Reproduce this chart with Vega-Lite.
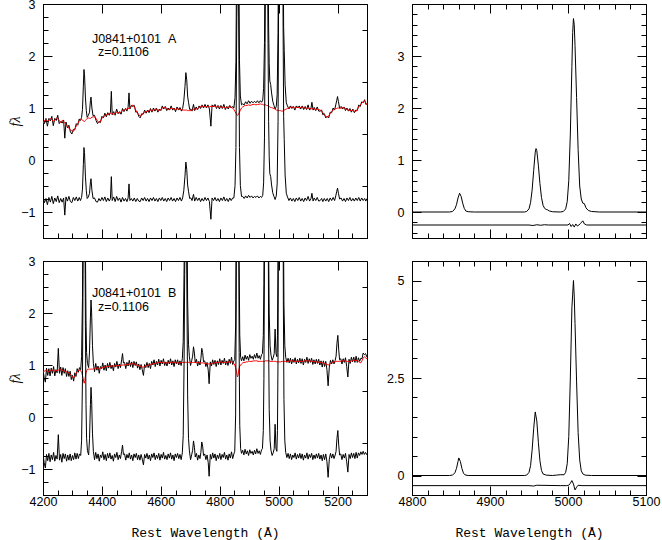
{
"$schema":"https://vega.github.io/schema/vega-lite/v6.json",
"background":"white",
"padding":{"left":8,"right":0,"top":-3,"bottom":0},
"config":{"view":{"stroke":"#000","strokeWidth":1},"axis":{"grid":false,"labelFlush":false,"labelOverlap":false,"domainColor":"#000","tickColor":"#000","labelColor":"#000","titleColor":"#000","labelFont":"Liberation Sans","labelFontSize":12.5,"tickWidth":1,"domainWidth":1}},
"datasets":{
"A":[
{"w":4200,"o":0.75,"m":0.70,"r":-0.71},{"w":4205,"o":0.70,"m":0.76,"r":-0.82},{"w":4210,"o":0.80,"m":0.78,"r":-0.74},{"w":4215,"o":0.65,"m":0.75,"r":-0.86},{"w":4220,"o":0.80,"m":0.76,"r":-0.72},{"w":4225,"o":0.75,"m":0.80,"r":-0.81},{"w":4230,"o":0.84,"m":0.78,"r":-0.70},{"w":4235,"o":0.66,"m":0.74,"r":-0.84},{"w":4240,"o":0.80,"m":0.77,"r":-0.73},{"w":4245,"o":0.76,"m":0.80,"r":-0.80},{"w":4250,"o":0.86,"m":0.79,"r":-0.69},{"w":4255,"o":0.70,"m":0.76,"r":-0.82},{"w":4260,"o":0.74,"m":0.72,"r":-0.74},{"w":4265,"o":0.71,"m":0.76,"r":-0.81},{"w":4270,"o":0.77,"m":0.74,"r":-0.73},{"w":4274,"o":0.42,"m":0.72,"r":-1.06},{"w":4278,"o":0.73,"m":0.68,"r":-0.71},{"w":4283,"o":0.62,"m":0.65,"r":-0.79},{"w":4288,"o":0.67,"m":0.61,"r":-0.70},{"w":4293,"o":0.54,"m":0.58,"r":-0.80},{"w":4298,"o":0.50,"m":0.56,"r":-0.82},{"w":4303,"o":0.59,"m":0.55,"r":-0.72},{"w":4308,"o":0.58,"m":0.60,"r":-0.78},{"w":4313,"o":0.70,"m":0.65,"r":-0.71},{"w":4318,"o":0.67,"m":0.70,"r":-0.79},{"w":4323,"o":0.79,"m":0.75,"r":-0.72},{"w":4327,"o":0.76,"m":0.78,"r":-0.78},{"w":4331,"o":0.82,"m":0.78,"r":-0.72},{"w":4334,"o":0.97,"m":0.77,"r":-0.56},{"w":4337,"o":1.42,"m":0.75,"r":-0.09},{"w":4339,"o":1.74,"m":0.74,"r":0.24},{"w":4341,"o":1.64,"m":0.74,"r":0.14},{"w":4344,"o":1.21,"m":0.76,"r":-0.31},{"w":4347,"o":0.95,"m":0.78,"r":-0.59},{"w":4350,"o":0.82,"m":0.80,"r":-0.74},{"w":4354,"o":0.86,"m":0.81,"r":-0.71},{"w":4358,"o":0.92,"m":0.80,"r":-0.64},{"w":4361,"o":1.14,"m":0.80,"r":-0.42},{"w":4363,"o":1.21,"m":0.81,"r":-0.36},{"w":4366,"o":1.00,"m":0.82,"r":-0.58},{"w":4370,"o":0.85,"m":0.83,"r":-0.74},{"w":4375,"o":0.86,"m":0.83,"r":-0.73},{"w":4380,"o":0.76,"m":0.80,"r":-0.80},{"w":4385,"o":0.70,"m":0.75,"r":-0.81},{"w":4390,"o":0.74,"m":0.72,"r":-0.74},{"w":4395,"o":0.72,"m":0.75,"r":-0.79},{"w":4400,"o":0.84,"m":0.80,"r":-0.72},{"w":4405,"o":0.81,"m":0.83,"r":-0.78},{"w":4410,"o":0.90,"m":0.85,"r":-0.71},{"w":4415,"o":0.83,"m":0.87,"r":-0.80},{"w":4420,"o":0.91,"m":0.88,"r":-0.73},{"w":4425,"o":0.86,"m":0.89,"r":-0.79},{"w":4429,"o":0.92,"m":0.90,"r":-0.74},{"w":4432,"o":1.32,"m":0.90,"r":-0.32},{"w":4435,"o":0.87,"m":0.89,"r":-0.78},{"w":4440,"o":0.93,"m":0.88,"r":-0.71},{"w":4445,"o":0.86,"m":0.90,"r":-0.80},{"w":4450,"o":0.98,"m":0.92,"r":-0.70},{"w":4455,"o":0.89,"m":0.91,"r":-0.78},{"w":4460,"o":0.93,"m":0.90,"r":-0.73},{"w":4465,"o":0.88,"m":0.93,"r":-0.81},{"w":4470,"o":0.99,"m":0.95,"r":-0.72},{"w":4475,"o":0.93,"m":0.96,"r":-0.79},{"w":4480,"o":0.99,"m":0.97,"r":-0.74},{"w":4485,"o":0.94,"m":0.98,"r":-0.80},{"w":4489,"o":1.02,"m":0.99,"r":-0.73},{"w":4492,"o":1.29,"m":0.99,"r":-0.46},{"w":4495,"o":0.98,"m":1.00,"r":-0.78},{"w":4500,"o":1.05,"m":1.03,"r":-0.74},{"w":4505,"o":1.03,"m":1.06,"r":-0.79},{"w":4510,"o":1.05,"m":1.02,"r":-0.73},{"w":4515,"o":0.92,"m":0.96,"r":-0.80},{"w":4520,"o":0.93,"m":0.91,"r":-0.74},{"w":4525,"o":0.84,"m":0.87,"r":-0.79},{"w":4530,"o":0.81,"m":0.85,"r":-0.80},{"w":4535,"o":0.89,"m":0.86,"r":-0.73},{"w":4540,"o":0.88,"m":0.90,"r":-0.78},{"w":4545,"o":0.96,"m":0.92,"r":-0.72},{"w":4550,"o":0.90,"m":0.93,"r":-0.79},{"w":4555,"o":0.96,"m":0.94,"r":-0.74},{"w":4560,"o":0.91,"m":0.95,"r":-0.80},{"w":4565,"o":0.99,"m":0.96,"r":-0.73},{"w":4570,"o":0.92,"m":0.94,"r":-0.78},{"w":4575,"o":1.00,"m":0.96,"r":-0.72},{"w":4580,"o":0.94,"m":0.97,"r":-0.79},{"w":4585,"o":1.00,"m":0.98,"r":-0.74},{"w":4590,"o":0.92,"m":0.96,"r":-0.80},{"w":4595,"o":0.98,"m":0.95,"r":-0.73},{"w":4600,"o":0.95,"m":0.97,"r":-0.78},{"w":4605,"o":1.04,"m":1.00,"r":-0.72},{"w":4610,"o":0.98,"m":1.01,"r":-0.79},{"w":4615,"o":1.03,"m":1.01,"r":-0.74},{"w":4620,"o":0.95,"m":0.99,"r":-0.80},{"w":4625,"o":1.00,"m":0.97,"r":-0.73},{"w":4630,"o":0.96,"m":0.98,"r":-0.78},{"w":4635,"o":1.04,"m":1.00,"r":-0.72},{"w":4640,"o":0.96,"m":0.99,"r":-0.79},{"w":4645,"o":1.00,"m":0.98,"r":-0.74},{"w":4650,"o":0.93,"m":0.97,"r":-0.80},{"w":4655,"o":1.02,"m":0.99,"r":-0.73},{"w":4660,"o":0.96,"m":0.98,"r":-0.78},{"w":4665,"o":1.01,"m":0.97,"r":-0.72},{"w":4670,"o":0.94,"m":0.97,"r":-0.79},{"w":4674,"o":0.99,"m":0.96,"r":-0.73},{"w":4678,"o":1.13,"m":0.96,"r":-0.59},{"w":4682,"o":1.41,"m":0.96,"r":-0.31},{"w":4685,"o":1.68,"m":0.96,"r":-0.04},{"w":4688,"o":1.54,"m":0.96,"r":-0.18},{"w":4691,"o":1.23,"m":0.95,"r":-0.48},{"w":4694,"o":1.11,"m":0.95,"r":-0.60},{"w":4698,"o":0.97,"m":0.95,"r":-0.74},{"w":4702,"o":0.98,"m":0.95,"r":-0.73},{"w":4706,"o":0.94,"m":0.96,"r":-0.78},{"w":4711,"o":1.07,"m":0.97,"r":-0.66},{"w":4715,"o":0.95,"m":0.98,"r":-0.79},{"w":4720,"o":1.02,"m":0.98,"r":-0.72},{"w":4725,"o":0.97,"m":0.99,"r":-0.78},{"w":4730,"o":1.04,"m":1.01,"r":-0.73},{"w":4735,"o":0.99,"m":1.03,"r":-0.80},{"w":4740,"o":1.06,"m":1.04,"r":-0.74},{"w":4745,"o":1.00,"m":1.03,"r":-0.79},{"w":4750,"o":1.07,"m":1.03,"r":-0.72},{"w":4755,"o":1.00,"m":1.02,"r":-0.78},{"w":4760,"o":1.06,"m":1.03,"r":-0.73},{"w":4765,"o":0.98,"m":1.02,"r":-0.80},{"w":4770,"o":0.65,"m":1.03,"r":-1.14},{"w":4774,"o":1.06,"m":1.03,"r":-0.73},{"w":4779,"o":1.02,"m":1.04,"r":-0.78},{"w":4784,"o":1.07,"m":1.03,"r":-0.72},{"w":4789,"o":0.99,"m":1.02,"r":-0.79},{"w":4794,"o":1.05,"m":1.03,"r":-0.74},{"w":4799,"o":0.98,"m":1.02,"r":-0.80},{"w":4804,"o":1.05,"m":1.02,"r":-0.73},{"w":4809,"o":0.99,"m":1.01,"r":-0.78},{"w":4814,"o":1.07,"m":1.02,"r":-0.71},{"w":4819,"o":0.97,"m":1.00,"r":-0.79},{"w":4824,"o":1.03,"m":1.01,"r":-0.74},{"w":4829,"o":0.98,"m":1.02,"r":-0.80},{"w":4834,"o":1.05,"m":1.02,"r":-0.73},{"w":4839,"o":1.00,"m":1.02,"r":-0.78},{"w":4844,"o":1.03,"m":1.00,"r":-0.73},{"w":4848,"o":1.00,"m":0.97,"r":-0.73},{"w":4852,"o":1.20,"m":0.93,"r":-0.49},{"w":4855,"o":1.90,"m":0.90,"r":0.24},{"w":4858,"o":4.37,"m":0.87,"r":2.74},{"w":4861,"o":5.86,"m":0.86,"r":4.24},{"w":4864,"o":4.68,"m":0.88,"r":3.04},{"w":4867,"o":1.92,"m":0.92,"r":0.24},{"w":4870,"o":1.23,"m":0.96,"r":-0.49},{"w":4874,"o":1.06,"m":1.00,"r":-0.70},{"w":4878,"o":1.08,"m":1.02,"r":-0.70},{"w":4883,"o":1.06,"m":1.04,"r":-0.74},{"w":4888,"o":1.12,"m":1.05,"r":-0.69},{"w":4893,"o":1.08,"m":1.05,"r":-0.73},{"w":4898,"o":1.14,"m":1.06,"r":-0.68},{"w":4903,"o":1.09,"m":1.05,"r":-0.72},{"w":4908,"o":1.13,"m":1.06,"r":-0.69},{"w":4913,"o":1.10,"m":1.07,"r":-0.73},{"w":4918,"o":1.13,"m":1.07,"r":-0.70},{"w":4923,"o":1.10,"m":1.06,"r":-0.72},{"w":4928,"o":1.14,"m":1.07,"r":-0.69},{"w":4933,"o":1.10,"m":1.07,"r":-0.73},{"w":4938,"o":1.14,"m":1.08,"r":-0.70},{"w":4942,"o":1.11,"m":1.07,"r":-0.72},{"w":4946,"o":1.15,"m":1.07,"r":-0.68},{"w":4949,"o":1.38,"m":1.06,"r":-0.44},{"w":4952,"o":2.26,"m":1.06,"r":0.44},{"w":4954,"o":4.06,"m":1.06,"r":2.24},{"w":4957,"o":7.26,"m":1.06,"r":5.44},{"w":4959,"o":8.06,"m":1.05,"r":6.24},{"w":4961,"o":7.05,"m":1.05,"r":5.24},{"w":4964,"o":4.04,"m":1.04,"r":2.24},{"w":4966,"o":2.54,"m":1.04,"r":0.74},{"w":4968,"o":1.85,"m":1.03,"r":0.06},{"w":4970,"o":1.52,"m":1.02,"r":-0.26},{"w":4973,"o":1.45,"m":1.01,"r":-0.32},{"w":4976,"o":1.29,"m":1.01,"r":-0.48},{"w":4980,"o":1.13,"m":1.00,"r":-0.63},{"w":4984,"o":1.05,"m":0.99,"r":-0.70},{"w":4988,"o":0.98,"m":0.98,"r":-0.76},{"w":4992,"o":1.03,"m":0.96,"r":-0.69},{"w":4995,"o":1.26,"m":0.96,"r":-0.46},{"w":4998,"o":2.45,"m":0.95,"r":0.74},{"w":5000,"o":4.95,"m":0.95,"r":3.24},{"w":5003,"o":12.95,"m":0.95,"r":11.24},{"w":5006,"o":20.95,"m":0.95,"r":19.24},{"w":5008,"o":21.94,"m":0.94,"r":20.24},{"w":5010,"o":17.94,"m":0.94,"r":16.24},{"w":5013,"o":8.94,"m":0.94,"r":7.24},{"w":5015,"o":4.45,"m":0.95,"r":2.74},{"w":5017,"o":2.55,"m":0.95,"r":0.84},{"w":5019,"o":2.11,"m":0.96,"r":0.39},{"w":5022,"o":1.44,"m":0.97,"r":-0.29},{"w":5026,"o":1.10,"m":0.98,"r":-0.64},{"w":5030,"o":1.04,"m":0.99,"r":-0.71},{"w":5035,"o":0.98,"m":1.00,"r":-0.78},{"w":5040,"o":1.04,"m":1.01,"r":-0.73},{"w":5045,"o":0.99,"m":1.02,"r":-0.79},{"w":5050,"o":1.03,"m":1.01,"r":-0.74},{"w":5055,"o":0.96,"m":1.00,"r":-0.80},{"w":5060,"o":1.04,"m":1.01,"r":-0.73},{"w":5065,"o":1.00,"m":1.02,"r":-0.78},{"w":5070,"o":1.04,"m":1.00,"r":-0.72},{"w":5075,"o":0.98,"m":1.01,"r":-0.79},{"w":5080,"o":1.04,"m":1.02,"r":-0.74},{"w":5085,"o":0.97,"m":1.01,"r":-0.80},{"w":5090,"o":1.03,"m":1.00,"r":-0.73},{"w":5095,"o":0.97,"m":0.99,"r":-0.78},{"w":5100,"o":1.06,"m":1.00,"r":-0.70},{"w":5105,"o":0.96,"m":0.99,"r":-0.79},{"w":5110,"o":1.00,"m":0.98,"r":-0.74},{"w":5113,"o":1.11,"m":0.99,"r":-0.64},{"w":5117,"o":0.96,"m":0.99,"r":-0.79},{"w":5121,"o":1.01,"m":0.98,"r":-0.73},{"w":5126,"o":0.95,"m":0.97,"r":-0.78},{"w":5131,"o":1.02,"m":0.98,"r":-0.72},{"w":5136,"o":0.94,"m":0.97,"r":-0.79},{"w":5141,"o":0.94,"m":0.96,"r":-0.78},{"w":5146,"o":0.96,"m":0.94,"r":-0.74},{"w":5150,"o":0.87,"m":0.91,"r":-0.80},{"w":5155,"o":0.89,"m":0.87,"r":-0.74},{"w":5160,"o":0.81,"m":0.84,"r":-0.79},{"w":5165,"o":0.84,"m":0.82,"r":-0.74},{"w":5170,"o":0.81,"m":0.85,"r":-0.80},{"w":5175,"o":0.92,"m":0.89,"r":-0.73},{"w":5180,"o":0.91,"m":0.93,"r":-0.78},{"w":5185,"o":1.00,"m":0.96,"r":-0.72},{"w":5190,"o":0.96,"m":0.98,"r":-0.78},{"w":5194,"o":1.06,"m":0.99,"r":-0.69},{"w":5197,"o":1.14,"m":0.99,"r":-0.61},{"w":5200,"o":1.22,"m":1.00,"r":-0.54},{"w":5203,"o":1.12,"m":1.00,"r":-0.64},{"w":5207,"o":1.00,"m":0.99,"r":-0.75},{"w":5212,"o":1.03,"m":1.00,"r":-0.73},{"w":5217,"o":0.98,"m":1.01,"r":-0.79},{"w":5222,"o":1.02,"m":1.00,"r":-0.74},{"w":5227,"o":0.95,"m":0.99,"r":-0.80},{"w":5232,"o":1.00,"m":0.97,"r":-0.73},{"w":5237,"o":0.94,"m":0.96,"r":-0.78},{"w":5242,"o":0.99,"m":0.95,"r":-0.72},{"w":5247,"o":0.92,"m":0.95,"r":-0.79},{"w":5252,"o":0.98,"m":0.96,"r":-0.74},{"w":5257,"o":0.91,"m":0.94,"r":-0.79},{"w":5262,"o":0.96,"m":0.93,"r":-0.73},{"w":5267,"o":0.95,"m":0.97,"r":-0.78},{"w":5272,"o":1.06,"m":1.02,"r":-0.72},{"w":5277,"o":1.03,"m":1.06,"r":-0.79},{"w":5282,"o":1.12,"m":1.09,"r":-0.73},{"w":5287,"o":1.10,"m":1.12,"r":-0.78},{"w":5292,"o":1.16,"m":1.14,"r":-0.74},{"w":5296,"o":1.07,"m":1.10,"r":-0.79},{"w":5300,"o":1.08,"m":1.06,"r":-0.74}
],
"B":[
{"w":4200,"o":0.91,"m":0.86,"r":-0.71},{"w":4204,"o":0.76,"m":0.88,"r":-0.88},{"w":4208,"o":0.67,"m":0.89,"r":-0.98},{"w":4212,"o":0.94,"m":0.90,"r":-0.72},{"w":4216,"o":0.80,"m":0.88,"r":-0.84},{"w":4220,"o":0.93,"m":0.87,"r":-0.70},{"w":4224,"o":0.79,"m":0.89,"r":-0.86},{"w":4228,"o":0.94,"m":0.91,"r":-0.73},{"w":4232,"o":0.84,"m":0.90,"r":-0.82},{"w":4236,"o":0.97,"m":0.89,"r":-0.68},{"w":4240,"o":0.79,"m":0.88,"r":-0.85},{"w":4244,"o":0.91,"m":0.89,"r":-0.74},{"w":4248,"o":0.85,"m":0.90,"r":-0.81},{"w":4252,"o":1.32,"m":0.90,"r":-0.34},{"w":4256,"o":0.84,"m":0.91,"r":-0.83},{"w":4260,"o":0.96,"m":0.92,"r":-0.72},{"w":4264,"o":0.80,"m":0.91,"r":-0.87},{"w":4268,"o":0.95,"m":0.89,"r":-0.70},{"w":4272,"o":0.84,"m":0.88,"r":-0.80},{"w":4276,"o":0.93,"m":0.88,"r":-0.71},{"w":4280,"o":0.78,"m":0.87,"r":-0.85},{"w":4284,"o":0.89,"m":0.86,"r":-0.73},{"w":4288,"o":0.78,"m":0.85,"r":-0.83},{"w":4292,"o":0.88,"m":0.83,"r":-0.71},{"w":4296,"o":0.72,"m":0.80,"r":-0.84},{"w":4300,"o":0.80,"m":0.78,"r":-0.74},{"w":4304,"o":0.69,"m":0.75,"r":-0.82},{"w":4308,"o":0.85,"m":0.78,"r":-0.69},{"w":4312,"o":0.78,"m":0.83,"r":-0.81},{"w":4316,"o":0.93,"m":0.87,"r":-0.70},{"w":4320,"o":0.86,"m":0.90,"r":-0.80},{"w":4324,"o":0.95,"m":0.90,"r":-0.71},{"w":4328,"o":0.91,"m":0.89,"r":-0.74},{"w":4331,"o":1.16,"m":0.86,"r":-0.46},{"w":4334,"o":2.30,"m":0.80,"r":0.74},{"w":4336,"o":4.25,"m":0.75,"r":2.74},{"w":4338,"o":6.18,"m":0.68,"r":4.74},{"w":4340,"o":6.65,"m":0.65,"r":5.24},{"w":4342,"o":5.70,"m":0.70,"r":4.24},{"w":4344,"o":3.28,"m":0.78,"r":1.74},{"w":4346,"o":1.85,"m":0.85,"r":0.24},{"w":4348,"o":1.24,"m":0.89,"r":-0.41},{"w":4351,"o":1.03,"m":0.92,"r":-0.65},{"w":4355,"o":0.95,"m":0.92,"r":-0.73},{"w":4358,"o":1.27,"m":0.92,"r":-0.41},{"w":4361,"o":1.92,"m":0.92,"r":0.24},{"w":4363,"o":2.25,"m":0.92,"r":0.57},{"w":4365,"o":2.02,"m":0.92,"r":0.34},{"w":4368,"o":1.37,"m":0.92,"r":-0.31},{"w":4371,"o":1.03,"m":0.93,"r":-0.66},{"w":4375,"o":0.87,"m":0.93,"r":-0.82},{"w":4379,"o":1.03,"m":0.95,"r":-0.68},{"w":4383,"o":0.90,"m":0.94,"r":-0.80},{"w":4387,"o":0.98,"m":0.93,"r":-0.71},{"w":4391,"o":0.84,"m":0.93,"r":-0.85},{"w":4395,"o":0.97,"m":0.94,"r":-0.73},{"w":4399,"o":0.93,"m":0.95,"r":-0.78},{"w":4403,"o":1.04,"m":0.95,"r":-0.67},{"w":4407,"o":0.90,"m":0.96,"r":-0.82},{"w":4411,"o":1.00,"m":0.96,"r":-0.72},{"w":4415,"o":0.89,"m":0.97,"r":-0.84},{"w":4419,"o":1.03,"m":0.97,"r":-0.70},{"w":4423,"o":0.94,"m":0.97,"r":-0.79},{"w":4427,"o":1.05,"m":0.98,"r":-0.69},{"w":4431,"o":0.93,"m":0.98,"r":-0.81},{"w":4435,"o":1.00,"m":0.98,"r":-0.74},{"w":4439,"o":0.89,"m":0.98,"r":-0.85},{"w":4443,"o":1.03,"m":0.98,"r":-0.71},{"w":4447,"o":0.96,"m":0.98,"r":-0.78},{"w":4451,"o":1.07,"m":0.99,"r":-0.68},{"w":4455,"o":0.93,"m":0.99,"r":-0.82},{"w":4459,"o":1.02,"m":0.99,"r":-0.73},{"w":4463,"o":0.95,"m":0.99,"r":-0.80},{"w":4467,"o":1.10,"m":1.00,"r":-0.66},{"w":4470,"o":1.22,"m":1.00,"r":-0.54},{"w":4473,"o":1.04,"m":1.00,"r":-0.72},{"w":4477,"o":1.05,"m":1.00,"r":-0.71},{"w":4481,"o":0.93,"m":1.00,"r":-0.83},{"w":4485,"o":1.05,"m":1.01,"r":-0.72},{"w":4489,"o":0.98,"m":1.01,"r":-0.79},{"w":4493,"o":1.09,"m":1.02,"r":-0.69},{"w":4497,"o":0.97,"m":1.02,"r":-0.81},{"w":4501,"o":1.06,"m":1.03,"r":-0.73},{"w":4505,"o":0.95,"m":1.03,"r":-0.84},{"w":4509,"o":1.07,"m":1.02,"r":-0.71},{"w":4513,"o":0.99,"m":1.01,"r":-0.78},{"w":4517,"o":1.06,"m":1.00,"r":-0.70},{"w":4521,"o":0.94,"m":1.00,"r":-0.82},{"w":4525,"o":1.02,"m":0.99,"r":-0.73},{"w":4529,"o":0.91,"m":0.98,"r":-0.83},{"w":4533,"o":1.01,"m":0.97,"r":-0.72},{"w":4537,"o":0.91,"m":0.96,"r":-0.81},{"w":4541,"o":0.80,"m":0.96,"r":-0.92},{"w":4545,"o":1.01,"m":0.97,"r":-0.72},{"w":4549,"o":0.95,"m":0.98,"r":-0.79},{"w":4553,"o":1.05,"m":0.99,"r":-0.70},{"w":4557,"o":0.95,"m":1.00,"r":-0.81},{"w":4561,"o":1.03,"m":1.00,"r":-0.73},{"w":4565,"o":0.93,"m":1.01,"r":-0.84},{"w":4569,"o":1.07,"m":1.02,"r":-0.71},{"w":4573,"o":1.00,"m":1.02,"r":-0.78},{"w":4577,"o":1.10,"m":1.03,"r":-0.69},{"w":4581,"o":0.97,"m":1.03,"r":-0.82},{"w":4585,"o":1.07,"m":1.04,"r":-0.73},{"w":4589,"o":1.00,"m":1.04,"r":-0.80},{"w":4593,"o":1.11,"m":1.05,"r":-0.70},{"w":4597,"o":0.98,"m":1.05,"r":-0.83},{"w":4601,"o":1.09,"m":1.05,"r":-0.72},{"w":4605,"o":1.02,"m":1.05,"r":-0.79},{"w":4609,"o":1.12,"m":1.04,"r":-0.68},{"w":4613,"o":0.99,"m":1.04,"r":-0.81},{"w":4617,"o":1.06,"m":1.04,"r":-0.74},{"w":4621,"o":0.98,"m":1.04,"r":-0.82},{"w":4625,"o":1.09,"m":1.04,"r":-0.71},{"w":4629,"o":1.02,"m":1.05,"r":-0.79},{"w":4633,"o":1.12,"m":1.05,"r":-0.69},{"w":4637,"o":1.00,"m":1.05,"r":-0.81},{"w":4641,"o":1.08,"m":1.05,"r":-0.73},{"w":4645,"o":0.97,"m":1.05,"r":-0.84},{"w":4649,"o":1.10,"m":1.05,"r":-0.71},{"w":4653,"o":1.02,"m":1.04,"r":-0.78},{"w":4657,"o":1.10,"m":1.04,"r":-0.70},{"w":4661,"o":1.00,"m":1.04,"r":-0.80},{"w":4665,"o":1.08,"m":1.04,"r":-0.72},{"w":4669,"o":0.99,"m":1.05,"r":-0.82},{"w":4673,"o":1.12,"m":1.05,"r":-0.69},{"w":4676,"o":1.45,"m":1.05,"r":-0.36},{"w":4679,"o":2.85,"m":1.05,"r":1.04},{"w":4681,"o":4.55,"m":1.05,"r":2.74},{"w":4683,"o":6.05,"m":1.05,"r":4.24},{"w":4685,"o":6.55,"m":1.05,"r":4.74},{"w":4687,"o":5.55,"m":1.05,"r":3.74},{"w":4689,"o":3.85,"m":1.05,"r":2.04},{"w":4691,"o":2.25,"m":1.05,"r":0.44},{"w":4694,"o":1.40,"m":1.05,"r":-0.41},{"w":4697,"o":1.16,"m":1.05,"r":-0.65},{"w":4701,"o":0.99,"m":1.05,"r":-0.82},{"w":4705,"o":1.09,"m":1.05,"r":-0.72},{"w":4708,"o":1.17,"m":1.05,"r":-0.64},{"w":4711,"o":1.35,"m":1.05,"r":-0.46},{"w":4714,"o":1.23,"m":1.05,"r":-0.58},{"w":4717,"o":1.04,"m":1.05,"r":-0.77},{"w":4721,"o":1.11,"m":1.05,"r":-0.70},{"w":4725,"o":0.98,"m":1.05,"r":-0.83},{"w":4729,"o":1.07,"m":1.04,"r":-0.73},{"w":4733,"o":1.00,"m":1.04,"r":-0.80},{"w":4736,"o":1.12,"m":1.04,"r":-0.68},{"w":4739,"o":1.32,"m":1.04,"r":-0.48},{"w":4742,"o":1.24,"m":1.04,"r":-0.56},{"w":4745,"o":1.06,"m":1.04,"r":-0.74},{"w":4749,"o":1.08,"m":1.03,"r":-0.71},{"w":4753,"o":0.97,"m":1.03,"r":-0.82},{"w":4757,"o":1.05,"m":1.02,"r":-0.73},{"w":4761,"o":0.90,"m":1.02,"r":-0.88},{"w":4764,"o":0.64,"m":1.02,"r":-1.14},{"w":4768,"o":1.06,"m":1.02,"r":-0.72},{"w":4772,"o":0.98,"m":1.03,"r":-0.81},{"w":4776,"o":1.10,"m":1.03,"r":-0.69},{"w":4780,"o":1.01,"m":1.04,"r":-0.79},{"w":4784,"o":1.09,"m":1.04,"r":-0.71},{"w":4788,"o":0.97,"m":1.05,"r":-0.84},{"w":4792,"o":1.08,"m":1.05,"r":-0.73},{"w":4796,"o":1.01,"m":1.05,"r":-0.80},{"w":4800,"o":1.12,"m":1.06,"r":-0.70},{"w":4804,"o":1.00,"m":1.06,"r":-0.82},{"w":4808,"o":1.09,"m":1.05,"r":-0.72},{"w":4812,"o":1.03,"m":1.05,"r":-0.78},{"w":4816,"o":1.13,"m":1.05,"r":-0.68},{"w":4820,"o":1.00,"m":1.05,"r":-0.81},{"w":4824,"o":1.08,"m":1.05,"r":-0.73},{"w":4828,"o":0.99,"m":1.06,"r":-0.83},{"w":4832,"o":1.11,"m":1.06,"r":-0.71},{"w":4836,"o":1.03,"m":1.06,"r":-0.79},{"w":4840,"o":1.15,"m":1.06,"r":-0.67},{"w":4844,"o":1.01,"m":1.05,"r":-0.80},{"w":4848,"o":1.08,"m":1.03,"r":-0.71},{"w":4851,"o":1.10,"m":1.00,"r":-0.66},{"w":4854,"o":1.75,"m":0.95,"r":0.04},{"w":4856,"o":3.90,"m":0.90,"r":2.24},{"w":4858,"o":7.34,"m":0.84,"r":5.74},{"w":4860,"o":9.27,"m":0.77,"r":7.74},{"w":4862,"o":8.80,"m":0.80,"r":7.24},{"w":4864,"o":5.88,"m":0.88,"r":4.24},{"w":4866,"o":2.94,"m":0.94,"r":1.24},{"w":4868,"o":1.58,"m":0.98,"r":-0.16},{"w":4871,"o":1.15,"m":1.00,"r":-0.61},{"w":4874,"o":1.08,"m":1.02,"r":-0.70},{"w":4878,"o":1.16,"m":1.04,"r":-0.64},{"w":4882,"o":1.08,"m":1.05,"r":-0.73},{"w":4886,"o":1.19,"m":1.05,"r":-0.62},{"w":4890,"o":1.11,"m":1.06,"r":-0.71},{"w":4894,"o":1.17,"m":1.06,"r":-0.65},{"w":4898,"o":1.09,"m":1.07,"r":-0.74},{"w":4902,"o":1.20,"m":1.07,"r":-0.63},{"w":4906,"o":1.13,"m":1.07,"r":-0.70},{"w":4910,"o":1.17,"m":1.07,"r":-0.66},{"w":4914,"o":1.11,"m":1.08,"r":-0.73},{"w":4918,"o":1.20,"m":1.08,"r":-0.64},{"w":4922,"o":1.13,"m":1.08,"r":-0.71},{"w":4926,"o":1.23,"m":1.08,"r":-0.61},{"w":4930,"o":1.13,"m":1.07,"r":-0.70},{"w":4934,"o":1.18,"m":1.07,"r":-0.65},{"w":4938,"o":1.11,"m":1.07,"r":-0.72},{"w":4942,"o":1.20,"m":1.07,"r":-0.63},{"w":4945,"o":1.22,"m":1.07,"r":-0.61},{"w":4948,"o":1.57,"m":1.07,"r":-0.26},{"w":4950,"o":2.57,"m":1.07,"r":0.74},{"w":4952,"o":5.07,"m":1.07,"r":3.24},{"w":4955,"o":15.08,"m":1.08,"r":13.24},{"w":4958,"o":26.08,"m":1.08,"r":24.24},{"w":4961,"o":19.08,"m":1.08,"r":17.24},{"w":4964,"o":7.08,"m":1.08,"r":5.24},{"w":4966,"o":3.28,"m":1.08,"r":1.44},{"w":4968,"o":1.98,"m":1.08,"r":0.14},{"w":4971,"o":1.37,"m":1.07,"r":-0.46},{"w":4974,"o":1.19,"m":1.07,"r":-0.64},{"w":4978,"o":1.09,"m":1.07,"r":-0.74},{"w":4982,"o":1.15,"m":1.07,"r":-0.68},{"w":4985,"o":1.22,"m":1.07,"r":-0.61},{"w":4988,"o":1.69,"m":1.07,"r":-0.14},{"w":4991,"o":1.22,"m":1.07,"r":-0.61},{"w":4994,"o":1.16,"m":1.06,"r":-0.66},{"w":4996,"o":1.56,"m":1.06,"r":-0.26},{"w":4998,"o":3.06,"m":1.06,"r":1.24},{"w":5000,"o":7.06,"m":1.06,"r":5.24},{"w":5003,"o":31.06,"m":1.06,"r":29.24},{"w":5007,"o":71.06,"m":1.06,"r":69.24},{"w":5011,"o":31.07,"m":1.07,"r":29.24},{"w":5014,"o":9.07,"m":1.07,"r":7.24},{"w":5016,"o":4.07,"m":1.07,"r":2.24},{"w":5018,"o":2.17,"m":1.07,"r":0.34},{"w":5021,"o":1.37,"m":1.07,"r":-0.46},{"w":5024,"o":1.15,"m":1.07,"r":-0.68},{"w":5028,"o":1.05,"m":1.07,"r":-0.78},{"w":5032,"o":1.13,"m":1.07,"r":-0.70},{"w":5036,"o":1.04,"m":1.08,"r":-0.80},{"w":5040,"o":1.13,"m":1.08,"r":-0.71},{"w":5044,"o":1.02,"m":1.08,"r":-0.82},{"w":5048,"o":1.11,"m":1.08,"r":-0.73},{"w":5052,"o":1.05,"m":1.07,"r":-0.78},{"w":5056,"o":1.14,"m":1.07,"r":-0.69},{"w":5060,"o":1.02,"m":1.07,"r":-0.81},{"w":5064,"o":1.11,"m":1.07,"r":-0.72},{"w":5068,"o":1.04,"m":1.07,"r":-0.79},{"w":5072,"o":1.13,"m":1.07,"r":-0.70},{"w":5076,"o":1.03,"m":1.07,"r":-0.80},{"w":5080,"o":1.12,"m":1.07,"r":-0.71},{"w":5084,"o":1.00,"m":1.07,"r":-0.83},{"w":5088,"o":1.11,"m":1.08,"r":-0.73},{"w":5092,"o":1.05,"m":1.08,"r":-0.79},{"w":5096,"o":1.15,"m":1.08,"r":-0.69},{"w":5100,"o":1.03,"m":1.08,"r":-0.81},{"w":5104,"o":1.12,"m":1.08,"r":-0.72},{"w":5108,"o":1.05,"m":1.07,"r":-0.78},{"w":5112,"o":1.13,"m":1.07,"r":-0.70},{"w":5116,"o":1.01,"m":1.07,"r":-0.82},{"w":5120,"o":1.10,"m":1.07,"r":-0.73},{"w":5124,"o":1.02,"m":1.06,"r":-0.80},{"w":5128,"o":1.11,"m":1.06,"r":-0.71},{"w":5132,"o":1.03,"m":1.06,"r":-0.79},{"w":5136,"o":1.11,"m":1.05,"r":-0.70},{"w":5140,"o":1.00,"m":1.05,"r":-0.81},{"w":5144,"o":1.08,"m":1.05,"r":-0.73},{"w":5148,"o":0.96,"m":1.04,"r":-0.84},{"w":5152,"o":1.08,"m":1.04,"r":-0.72},{"w":5156,"o":0.97,"m":1.03,"r":-0.82},{"w":5160,"o":1.07,"m":1.02,"r":-0.71},{"w":5164,"o":0.91,"m":1.01,"r":-0.86},{"w":5168,"o":0.60,"m":1.00,"r":-1.16},{"w":5172,"o":0.96,"m":1.01,"r":-0.81},{"w":5176,"o":1.09,"m":1.03,"r":-0.70},{"w":5180,"o":1.02,"m":1.05,"r":-0.79},{"w":5184,"o":1.10,"m":1.05,"r":-0.71},{"w":5188,"o":1.02,"m":1.06,"r":-0.80},{"w":5192,"o":1.09,"m":1.06,"r":-0.73},{"w":5195,"o":1.17,"m":1.07,"r":-0.66},{"w":5198,"o":1.42,"m":1.07,"r":-0.41},{"w":5201,"o":1.57,"m":1.07,"r":-0.26},{"w":5204,"o":1.29,"m":1.07,"r":-0.54},{"w":5207,"o":1.10,"m":1.07,"r":-0.73},{"w":5211,"o":1.12,"m":1.07,"r":-0.71},{"w":5215,"o":1.02,"m":1.08,"r":-0.82},{"w":5219,"o":1.12,"m":1.08,"r":-0.72},{"w":5223,"o":1.05,"m":1.08,"r":-0.79},{"w":5227,"o":1.14,"m":1.08,"r":-0.70},{"w":5231,"o":0.97,"m":1.07,"r":-0.86},{"w":5235,"o":0.77,"m":1.07,"r":-1.06},{"w":5239,"o":1.11,"m":1.07,"r":-0.72},{"w":5243,"o":1.03,"m":1.07,"r":-0.80},{"w":5247,"o":1.15,"m":1.08,"r":-0.69},{"w":5251,"o":1.06,"m":1.08,"r":-0.78},{"w":5255,"o":1.15,"m":1.09,"r":-0.70},{"w":5259,"o":1.05,"m":1.09,"r":-0.80},{"w":5263,"o":1.17,"m":1.09,"r":-0.68},{"w":5267,"o":1.05,"m":1.08,"r":-0.79},{"w":5271,"o":1.14,"m":1.07,"r":-0.69},{"w":5275,"o":1.07,"m":1.05,"r":-0.74},{"w":5279,"o":1.13,"m":1.04,"r":-0.67},{"w":5283,"o":1.12,"m":1.08,"r":-0.72},{"w":5287,"o":1.23,"m":1.13,"r":-0.66},{"w":5291,"o":1.20,"m":1.16,"r":-0.72},{"w":5295,"o":1.22,"m":1.14,"r":-0.68},{"w":5300,"o":1.15,"m":1.12,"r":-0.73}
],
"RA":[
{"s":"fit","w":4800,"v":0},{"s":"fit","w":4848,"v":0},{"s":"fit","w":4852,"v":0.01},{"s":"fit","w":4855,"v":0.06},{"s":"fit","w":4857,"v":0.14},{"s":"fit","w":4859,"v":0.27},{"s":"fit","w":4861,"v":0.36},{"s":"fit","w":4863,"v":0.3},{"s":"fit","w":4865,"v":0.17},{"s":"fit","w":4867,"v":0.07},{"s":"fit","w":4869,"v":0.02},{"s":"fit","w":4872,"v":0.005},{"s":"fit","w":4880,"v":0},{"s":"fit","w":4944,"v":0},{"s":"fit","w":4947,"v":0.01},{"s":"fit","w":4950,"v":0.06},{"s":"fit","w":4952,"v":0.18},{"s":"fit","w":4954,"v":0.42},{"s":"fit","w":4956,"v":0.8},{"s":"fit","w":4958,"v":1.15},{"s":"fit","w":4959,"v":1.22},{"s":"fit","w":4960,"v":1.18},{"s":"fit","w":4962,"v":0.9},{"s":"fit","w":4964,"v":0.55},{"s":"fit","w":4966,"v":0.28},{"s":"fit","w":4968,"v":0.13},{"s":"fit","w":4970,"v":0.07},{"s":"fit","w":4972,"v":0.05},{"s":"fit","w":4974,"v":0.04},{"s":"fit","w":4976,"v":0.02},{"s":"fit","w":4980,"v":0.005},{"s":"fit","w":4990,"v":0},{"s":"fit","w":4994,"v":0.01},{"s":"fit","w":4997,"v":0.06},{"s":"fit","w":4999,"v":0.2},{"s":"fit","w":5001,"v":0.6},{"s":"fit","w":5003,"v":1.5},{"s":"fit","w":5005,"v":2.8},{"s":"fit","w":5006,"v":3.45},{"s":"fit","w":5007,"v":3.72},{"s":"fit","w":5008,"v":3.6},{"s":"fit","w":5009,"v":3.2},{"s":"fit","w":5011,"v":2.2},{"s":"fit","w":5013,"v":1.2},{"s":"fit","w":5015,"v":0.5},{"s":"fit","w":5017,"v":0.25},{"s":"fit","w":5019,"v":0.17},{"s":"fit","w":5021,"v":0.16},{"s":"fit","w":5023,"v":0.08},{"s":"fit","w":5026,"v":0.03},{"s":"fit","w":5030,"v":0.01},{"s":"fit","w":5040,"v":0},{"s":"fit","w":5100,"v":0},
{"s":"res","w":4800,"v":-0.25},{"s":"res","w":4950,"v":-0.25},{"s":"res","w":4955,"v":-0.26},{"s":"res","w":4960,"v":-0.245},{"s":"res","w":4965,"v":-0.255},{"s":"res","w":4970,"v":-0.245},{"s":"res","w":4975,"v":-0.25},{"s":"res","w":5000,"v":-0.25},{"s":"res","w":5002,"v":-0.22},{"s":"res","w":5004,"v":-0.28},{"s":"res","w":5006,"v":-0.24},{"s":"res","w":5008,"v":-0.29},{"s":"res","w":5010,"v":-0.23},{"s":"res","w":5012,"v":-0.27},{"s":"res","w":5014,"v":-0.25},{"s":"res","w":5016,"v":-0.22},{"s":"res","w":5019,"v":-0.17},{"s":"res","w":5021,"v":-0.23},{"s":"res","w":5024,"v":-0.25},{"s":"res","w":5100,"v":-0.25}
],
"RB":[
{"s":"fit","w":4800,"v":0},{"s":"fit","w":4848,"v":0},{"s":"fit","w":4852,"v":0.01},{"s":"fit","w":4855,"v":0.07},{"s":"fit","w":4857,"v":0.18},{"s":"fit","w":4859,"v":0.36},{"s":"fit","w":4860,"v":0.45},{"s":"fit","w":4862,"v":0.36},{"s":"fit","w":4864,"v":0.18},{"s":"fit","w":4866,"v":0.06},{"s":"fit","w":4868,"v":0.015},{"s":"fit","w":4872,"v":0},{"s":"fit","w":4944,"v":0},{"s":"fit","w":4947,"v":0.01},{"s":"fit","w":4950,"v":0.08},{"s":"fit","w":4952,"v":0.25},{"s":"fit","w":4954,"v":0.65},{"s":"fit","w":4956,"v":1.2},{"s":"fit","w":4958,"v":1.63},{"s":"fit","w":4960,"v":1.4},{"s":"fit","w":4962,"v":0.85},{"s":"fit","w":4964,"v":0.38},{"s":"fit","w":4966,"v":0.13},{"s":"fit","w":4968,"v":0.04},{"s":"fit","w":4972,"v":0.01},{"s":"fit","w":4980,"v":0},{"s":"fit","w":4985,"v":0.01},{"s":"fit","w":4990,"v":0.02},{"s":"fit","w":4995,"v":0.02},{"s":"fit","w":4997,"v":0.08},{"s":"fit","w":4999,"v":0.3},{"s":"fit","w":5001,"v":1.0},{"s":"fit","w":5003,"v":2.5},{"s":"fit","w":5005,"v":4.3},{"s":"fit","w":5006,"v":4.65},{"s":"fit","w":5007,"v":5.0},{"s":"fit","w":5008,"v":4.6},{"s":"fit","w":5009,"v":3.9},{"s":"fit","w":5011,"v":2.4},{"s":"fit","w":5013,"v":1.1},{"s":"fit","w":5015,"v":0.4},{"s":"fit","w":5017,"v":0.12},{"s":"fit","w":5019,"v":0.04},{"s":"fit","w":5022,"v":0.01},{"s":"fit","w":5030,"v":0},{"s":"fit","w":5100,"v":0},
{"s":"res","w":4800,"v":-0.26},{"s":"res","w":4950,"v":-0.26},{"s":"res","w":4956,"v":-0.27},{"s":"res","w":4960,"v":-0.25},{"s":"res","w":4990,"v":-0.26},{"s":"res","w":4998,"v":-0.26},{"s":"res","w":5001,"v":-0.25},{"s":"res","w":5003,"v":-0.2},{"s":"res","w":5005,"v":-0.13},{"s":"res","w":5007,"v":-0.22},{"s":"res","w":5009,"v":-0.37},{"s":"res","w":5011,"v":-0.3},{"s":"res","w":5013,"v":-0.25},{"s":"res","w":5018,"v":-0.26},{"s":"res","w":5100,"v":-0.26}
]
},
"spacing":18,
"hconcat":[
{"spacing":9,"vconcat":[
{"width":324,"height":234,"data":{"name":"A"},"transform":[{"fold":["o","m","r"],"as":["s","v"]}],
"layer":[
{"mark":{"type":"line","clip":true,"strokeWidth":1},
"encoding":{
"x":{"field":"w","type":"quantitative","scale":{"domain":[4200,5300],"nice":false,"zero":false},"axis":{"orient":"bottom","values":[4200,4250,4300,4350,4400,4450,4500,4550,4600,4650,4700,4750,4800,4850,4900,4950,5000,5050,5100,5150,5200,5250,5300],"labels":false,"title":null,"tickSize":{"condition":{"test":"datum.value % 200 === 0","value":-9},"value":-5}}},
"y":{"field":"v","type":"quantitative","scale":{"domain":[-1.5,3],"nice":false,"zero":false},"axis":{"orient":"left","values":[-1.5,-1.25,-1,-0.75,-0.5,-0.25,0,0.25,0.5,0.75,1,1.25,1.5,1.75,2,2.25,2.5,2.75,3],"labelExpr":"abs(datum.value - round(datum.value)) < 0.01 ? (datum.value < 0 ? '\u2212' + abs(round(datum.value)) : '' + round(datum.value)) : ''","labelPadding":17,"title":"fλ","titleFont":"Liberation Serif","titleFontStyle":"italic","titleFontWeight":"normal","titleFontSize":14,"titlePadding":-2,"tickSize":{"condition":{"test":"abs(datum.value - round(datum.value)) < 0.01","value":-9},"value":-5}}},
"color":{"field":"s","type":"nominal","scale":{"domain":["o","m","r"],"range":["#000000","#ff0000","#000000"]},"legend":null}}},
{"layer":[
{"mark":{"type":"point","opacity":0,"clip":true},
"encoding":{
"x":{"field":"w","type":"quantitative","scale":{"domain":[4200,5300],"nice":false,"zero":false},"axis":{"orient":"top","values":[4200,4250,4300,4350,4400,4450,4500,4550,4600,4650,4700,4750,4800,4850,4900,4950,5000,5050,5100,5150,5200,5250,5300],"labels":false,"title":null,"tickSize":{"condition":{"test":"datum.value % 200 === 0","value":-9},"value":-5}}},
"y":{"field":"v","type":"quantitative","scale":{"domain":[-1.5,3],"nice":false,"zero":false},"axis":{"orient":"right","values":[-1.5,-1.25,-1,-0.75,-0.5,-0.25,0,0.25,0.5,0.75,1,1.25,1.5,1.75,2,2.25,2.5,2.75,3],"labels":false,"title":null,"tickSize":{"condition":{"test":"abs(datum.value - round(datum.value)) < 0.01","value":-9},"value":-5}}}}},
{"data":{"values":[{}]},"mark":{"type":"text","align":"left","baseline":"middle","font":"Liberation Sans","fontSize":12.5,"color":"#000"},"encoding":{"x":{"datum":4366},"y":{"datum":2.33},"text":{"value":"J0841+0101\u00a0\u00a0A"}}},
{"data":{"values":[{}]},"mark":{"type":"text","align":"left","baseline":"middle","font":"Liberation Sans","fontSize":12.5,"color":"#000"},"encoding":{"x":{"datum":4387},"y":{"datum":2.08},"text":{"value":"z=0.1106"}}}
]}
],
"resolve":{"axis":{"x":"independent","y":"independent"}}},
{"width":324,"height":234,"data":{"name":"B"},"transform":[{"fold":["o","m","r"],"as":["s","v"]}],
"layer":[
{"mark":{"type":"line","clip":true,"strokeWidth":1},
"encoding":{
"x":{"field":"w","type":"quantitative","scale":{"domain":[4200,5300],"nice":false,"zero":false},"axis":{"orient":"bottom","values":[4200,4250,4300,4350,4400,4450,4500,4550,4600,4650,4700,4750,4800,4850,4900,4950,5000,5050,5100,5150,5200,5250,5300],"labelExpr":"datum.value % 200 === 0 ? '' + datum.value : ''","labelPadding":9,"title":"Rest Wavelength (Å)","titleFont":"Liberation Mono","titleFontSize":13,"titleFontWeight":"normal","titlePadding":15,"tickSize":{"condition":{"test":"datum.value % 200 === 0","value":-9},"value":-5}}},
"y":{"field":"v","type":"quantitative","scale":{"domain":[-1.5,3],"nice":false,"zero":false},"axis":{"orient":"left","values":[-1.5,-1.25,-1,-0.75,-0.5,-0.25,0,0.25,0.5,0.75,1,1.25,1.5,1.75,2,2.25,2.5,2.75,3],"labelExpr":"abs(datum.value - round(datum.value)) < 0.01 ? (datum.value < 0 ? '\u2212' + abs(round(datum.value)) : '' + round(datum.value)) : ''","labelPadding":17,"title":"fλ","titleFont":"Liberation Serif","titleFontStyle":"italic","titleFontWeight":"normal","titleFontSize":14,"titlePadding":-2,"tickSize":{"condition":{"test":"abs(datum.value - round(datum.value)) < 0.01","value":-9},"value":-5}}},
"color":{"field":"s","type":"nominal","scale":{"domain":["o","m","r"],"range":["#000000","#ff0000","#000000"]},"legend":null}}},
{"layer":[
{"mark":{"type":"point","opacity":0,"clip":true},
"encoding":{
"x":{"field":"w","type":"quantitative","scale":{"domain":[4200,5300],"nice":false,"zero":false},"axis":{"orient":"top","values":[4200,4250,4300,4350,4400,4450,4500,4550,4600,4650,4700,4750,4800,4850,4900,4950,5000,5050,5100,5150,5200,5250,5300],"labels":false,"title":null,"tickSize":{"condition":{"test":"datum.value % 200 === 0","value":-9},"value":-5}}},
"y":{"field":"v","type":"quantitative","scale":{"domain":[-1.5,3],"nice":false,"zero":false},"axis":{"orient":"right","values":[-1.5,-1.25,-1,-0.75,-0.5,-0.25,0,0.25,0.5,0.75,1,1.25,1.5,1.75,2,2.25,2.5,2.75,3],"labels":false,"title":null,"tickSize":{"condition":{"test":"abs(datum.value - round(datum.value)) < 0.01","value":-9},"value":-5}}}}},
{"data":{"values":[{}]},"mark":{"type":"text","align":"left","baseline":"middle","font":"Liberation Sans","fontSize":12.5,"color":"#000"},"encoding":{"x":{"datum":4366},"y":{"datum":2.38},"text":{"value":"J0841+0101\u00a0\u00a0B"}}},
{"data":{"values":[{}]},"mark":{"type":"text","align":"left","baseline":"middle","font":"Liberation Sans","fontSize":12.5,"color":"#000"},"encoding":{"x":{"datum":4387},"y":{"datum":2.12},"text":{"value":"z=0.1106"}}}
]}
],
"resolve":{"axis":{"x":"independent","y":"independent"}}}
]},
{"spacing":14,"vconcat":[
{"width":234,"height":234,"data":{"name":"RA"},
"layer":[
{"mark":{"type":"line","clip":true,"strokeWidth":1,"color":"#000"},
"encoding":{
"x":{"field":"w","type":"quantitative","scale":{"domain":[4800,5100],"nice":false,"zero":false},"axis":{"orient":"bottom","values":[4800,4820,4840,4860,4880,4900,4920,4940,4960,4980,5000,5020,5040,5060,5080,5100],"labels":false,"title":null,"tickSize":{"condition":{"test":"datum.value % 100 === 0","value":-9},"value":-5}}},
"y":{"field":"v","type":"quantitative","scale":{"domain":[-0.5,4],"nice":false,"zero":false},"axis":{"orient":"left","values":[-0.4,-0.2,0,0.2,0.4,0.6,0.8,1,1.2,1.4,1.6,1.8,2,2.2,2.4,2.6,2.8,3,3.2,3.4,3.6,3.8,4],"labelExpr":"datum.value > 3.9 ? '\u00a0' : (abs(datum.value - round(datum.value)) < 0.01 ? '' + round(datum.value) : '')","labelPadding":17,"title":null,"tickSize":{"condition":{"test":"abs(datum.value - round(datum.value)) < 0.01","value":-9},"value":-5}}},
"detail":{"field":"s","type":"nominal"}}},
{"mark":{"type":"point","opacity":0,"clip":true},
"encoding":{
"x":{"field":"w","type":"quantitative","scale":{"domain":[4800,5100],"nice":false,"zero":false},"axis":{"orient":"top","values":[4800,4820,4840,4860,4880,4900,4920,4940,4960,4980,5000,5020,5040,5060,5080,5100],"labels":false,"title":null,"tickSize":{"condition":{"test":"datum.value % 100 === 0","value":-9},"value":-5}}},
"y":{"field":"v","type":"quantitative","scale":{"domain":[-0.5,4],"nice":false,"zero":false},"axis":{"orient":"right","values":[-0.4,-0.2,0,0.2,0.4,0.6,0.8,1,1.2,1.4,1.6,1.8,2,2.2,2.4,2.6,2.8,3,3.2,3.4,3.6,3.8],"labels":false,"title":null,"tickSize":{"condition":{"test":"abs(datum.value - round(datum.value)) < 0.01","value":-9},"value":-5}}}}}
],
"resolve":{"axis":{"x":"independent","y":"independent"}}},
{"width":234,"height":234,"data":{"name":"RB"},
"layer":[
{"mark":{"type":"line","clip":true,"strokeWidth":1,"color":"#000"},
"encoding":{
"x":{"field":"w","type":"quantitative","scale":{"domain":[4800,5100],"nice":false,"zero":false},"axis":{"orient":"bottom","values":[4800,4820,4840,4860,4880,4900,4920,4940,4960,4980,5000,5020,5040,5060,5080,5100],"labelExpr":"datum.value % 100 === 0 ? '' + datum.value : ''","labelPadding":9,"title":"Rest Wavelength (Å)","titleFont":"Liberation Mono","titleFontSize":13,"titleFontWeight":"normal","titlePadding":15,"tickSize":{"condition":{"test":"datum.value % 100 === 0","value":-9},"value":-5}}},
"y":{"field":"v","type":"quantitative","scale":{"domain":[-0.5,5.5],"nice":false,"zero":false},"axis":{"orient":"left","values":[-0.5,0,0.5,1,1.5,2,2.5,3,3.5,4,4.5,5,5.5],"labelExpr":"datum.value % 2.5 === 0 ? '' + datum.value : ''","labelPadding":17,"title":null,"tickSize":{"condition":{"test":"datum.value % 2.5 === 0","value":-9},"value":-5}}},
"detail":{"field":"s","type":"nominal"}}},
{"mark":{"type":"point","opacity":0,"clip":true},
"encoding":{
"x":{"field":"w","type":"quantitative","scale":{"domain":[4800,5100],"nice":false,"zero":false},"axis":{"orient":"top","values":[4800,4820,4840,4860,4880,4900,4920,4940,4960,4980,5000,5020,5040,5060,5080,5100],"labels":false,"title":null,"tickSize":{"condition":{"test":"datum.value % 100 === 0","value":-9},"value":-5}}},
"y":{"field":"v","type":"quantitative","scale":{"domain":[-0.5,5.5],"nice":false,"zero":false},"axis":{"orient":"right","values":[-0.5,0,0.5,1,1.5,2,2.5,3,3.5,4,4.5,5,5.5],"labels":false,"title":null,"tickSize":{"condition":{"test":"datum.value % 2.5 === 0","value":-9},"value":-5}}}}}
],
"resolve":{"axis":{"x":"independent","y":"independent"}}}
]}
]
}
